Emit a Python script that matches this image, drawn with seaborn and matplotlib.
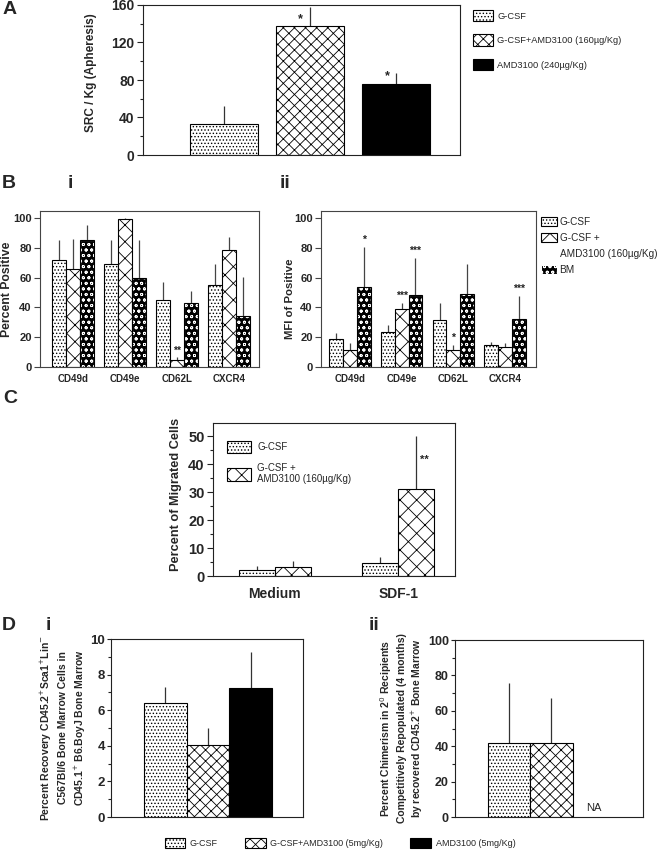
import numpy as np
import pandas as pd
import seaborn as sns
import matplotlib.pyplot as plt
from matplotlib.patches import Patch, Rectangle
from matplotlib.ticker import MultipleLocator

# ---- values ----
# panel A
a_groups = ['G-CSF', 'G-CSF+AMD3100 (160µg/Kg)', 'AMD3100 (240µg/Kg)']
a_mean = [33, 138, 75.5]
a_err = [19, 20, 12]
a_star = ['', '*', '*']
a_star_y = [0, 145, 84]

# panel B
b_markers = ['CD49d', 'CD49e', 'CD62L', 'CXCR4']
b_groups = ['G-CSF', 'G-CSF + AMD3100 (160µg/Kg)', 'BM']
bi_gcsf = [72, 69, 45, 55]
bi_gcsf_err = [13, 16, 12, 14]
bi_amd = [66, 99, 5, 78.5]
bi_amd_err = [20, 1, 2, 9]
bi_bm = [85, 59.5, 43, 34]
bi_bm_err = [10, 25.5, 8, 26.5]
bi_amd_star = ['', '', '**', '']

bii_gcsf = [18.6, 23.7, 31.5, 14.8]
bii_gcsf_err = [4, 4.3, 11.5, 1.8]
bii_amd = [11.6, 38.7, 11.4, 13.6]
bii_amd_err = [4.3, 4.3, 3.4, 2.3]
bii_bm = [53.5, 48.5, 49.2, 32.4]
bii_bm_err = [27.2, 24.5, 19.8, 15.2]
bii_amd_star = ['', '***', '*', '']
bii_bm_star = ['*', '***', '', '***']

# panel C
c_conditions = ['Medium', 'SDF-1']
c_groups = ['G-CSF', 'G-CSF +\nAMD3100 (160µg/Kg)']
c_gcsf = [2.2, 4.5]
c_gcsf_err = [1.4, 2.2]
c_amd = [3.1, 31.1]
c_amd_err = [2.3, 19.1]
c_amd_star = ['', '**']

# panel D
d_groups = ['G-CSF', 'G-CSF+AMD3100 (5mg/Kg)', 'AMD3100 (5mg/Kg)']
di_mean = [6.39, 4.04, 7.23]
di_err = [0.93, 0.98, 2.06]
dii_mean = [42, 41.6, np.nan]
dii_err = [33.5, 25.4, np.nan]

sns.set_style('ticks')
plt.rcParams['font.family'] = ['Liberation Sans', 'DejaVu Sans']
plt.rcParams['hatch.linewidth'] = 0.6

W, H = 658, 855
fig = plt.figure(figsize=(W / 100, H / 100), dpi=100)


def add_ax(l, t, r, b):
    return fig.add_axes([l / W, 1 - b / H, (r - l) / W, (b - t) / H])


def dots():
    return dict(facecolor='white', edgecolor='black', hatch='.....')


def cross(h):
    return dict(facecolor='white', edgecolor='black', hatch=h)


def solid():
    return dict(facecolor='black', edgecolor='black', hatch=None)


def marrow():
    return dict(facecolor='black', edgecolor='white', hatch='ooo')


def style_bar(ax, bar, st, err, ecolor='#333'):
    bar.set_facecolor(st['facecolor'])
    bar.set_edgecolor(st['edgecolor'])
    bar.set_hatch(st['hatch'])
    bar.set_linewidth(0.8)
    if st['edgecolor'] == 'white':
        ax.add_patch(Rectangle(bar.get_xy(), bar.get_width(), bar.get_height(),
                               fill=False, edgecolor='black', lw=0.8, zorder=bar.get_zorder() + 0.1))
    x = bar.get_x() + bar.get_width() / 2
    y = bar.get_height()
    ax.vlines(x, y, y + err, color=ecolor, lw=0.9, zorder=bar.get_zorder() - 0.5)
    return x, y + err


def frame(ax, lw=0.8, color='#222'):
    for s in ax.spines.values():
        s.set_visible(True)
        s.set_linewidth(lw)
        s.set_color(color)
    ax.tick_params(axis='x', length=0)
    ax.tick_params(axis='y', which='major', length=4, width=0.8, pad=2, color=color)
    ax.tick_params(axis='y', which='minor', length=2.5, width=0.8, color=color)
    ax.set_xlabel('')


def bold_ticks(ax, ysize, xsize=None):
    for t in ax.get_yticklabels():
        t.set_fontweight('bold')
        t.set_fontsize(ysize)
    for t in ax.get_xticklabels():
        t.set_fontweight('bold')
        if xsize:
            t.set_fontsize(xsize)


# ================= A =================
ax = add_ax(143, 5, 460, 155)
dfa = pd.DataFrame({'group': a_groups, 'value': a_mean})
sns.barplot(data=dfa, x='group', y='value', hue='group', order=a_groups, hue_order=a_groups,
            palette=['white', 'white', 'black'], dodge=False, legend=False, width=0.79,
            errorbar=None, ax=ax)
a_styles = [dots(), cross('xxx'), solid()]
for p in list(ax.patches):
    i = int(round(p.get_x() + p.get_width() / 2))
    x, top = style_bar(ax, p, a_styles[i], a_err[i])
    if a_star[i]:
        ax.text(x - 0.08, a_star_y[i], a_star[i], ha='right', va='center', fontsize=9, fontweight='bold')
ax.set_xlim(-0.94, 2.74)
ax.set_ylim(0, 160)
ax.set_yticks([0, 40, 80, 120, 160])
ax.yaxis.set_minor_locator(MultipleLocator(20))
ax.set_xticks([])
frame(ax)
bold_ticks(ax, 10)
ax.set_ylabel('SRC / Kg (Apheresis)', fontsize=8.5, fontweight='bold')
ax.yaxis.set_label_coords(-0.145, 0.55)
ax.legend(handles=[Patch(**s, lw=0.8) for s in a_styles], labels=a_groups,
          loc='upper left', bbox_to_anchor=(473 / W, 1 - 10 / H), bbox_transform=fig.transFigure,
          frameon=False, fontsize=6.7, handlelength=2.15, handleheight=1.5, labelspacing=1.4,
          handletextpad=0.45, borderpad=0, borderaxespad=0)


# ================= B =================
def grouped(ax, means, errs, stars, styles, xlim, ylim, width=0.8, star_off=1.0):
    rows = []
    for g, vals in zip(b_groups, means):
        for m, v in zip(b_markers, vals):
            rows.append((m, g, v))
    df = pd.DataFrame(rows, columns=['marker', 'group', 'value'])
    sns.barplot(data=df, x='marker', y='value', hue='group', order=b_markers, hue_order=b_groups,
                palette=['white', 'white', 'black'], width=width, legend=False, errorbar=None, ax=ax)
    for k, cont in enumerate(list(ax.containers)):
        for j, bar in enumerate(cont):
            x, top = style_bar(ax, bar, styles[k], errs[k][j], ecolor='#444')
            if stars[k][j]:
                ax.text(x, top + star_off, stars[k][j], ha='center', va='bottom', fontsize=7.5,
                        fontweight='bold', color='#222')
    ax.set_xlim(*xlim)
    ax.set_ylim(*ylim)
    ax.set_yticks([0, 20, 40, 60, 80, 100])
    frame(ax, color='#444')
    ax.tick_params(axis='x', pad=5)
    bold_ticks(ax, 8, 7)


b_styles = [dots(), cross('xx'), marrow()]
ax = add_ax(40, 211, 259, 367)
grouped(ax, [bi_gcsf, bi_amd, bi_bm], [bi_gcsf_err, bi_amd_err, bi_bm_err],
        [[''] * 4, bi_amd_star, [''] * 4], b_styles, (-0.635, 3.58), (0, 104.7), star_off=0.2)
ax.set_ylabel('Percent Positive', fontsize=8.8, fontweight='bold')
ax.yaxis.set_label_coords(-0.123, 0.5)

ax = add_ax(321, 211, 536, 367)
grouped(ax, [bii_gcsf, bii_amd, bii_bm], [bii_gcsf_err, bii_amd_err, bii_bm_err],
        [[''] * 4, bii_amd_star, bii_bm_star], b_styles, (-0.56, 3.6), (0, 104.7), star_off=1.5)
ax.set_ylabel('MFI of Positive', fontsize=8.2, fontweight='bold')
ax.yaxis.set_label_coords(-0.121, 0.44)
b_handles = [Patch(**b_styles[0], lw=0.8), Patch(**b_styles[1], lw=0.8),
             Patch(facecolor='none', edgecolor='none'), Patch(**b_styles[2], lw=0.8)]
b_labels = ['G-CSF', 'G-CSF +', 'AMD3100 (160µg/Kg)', 'BM']
ax.legend(handles=b_handles, labels=b_labels, loc='upper left',
          bbox_to_anchor=(541 / W, 1 - 217 / H), bbox_transform=fig.transFigure,
          frameon=False, fontsize=7.2, handlelength=1.6, handleheight=1.0, labelspacing=0.6,
          handletextpad=0.25, borderpad=0, borderaxespad=0)

# ================= C =================
ax = add_ax(213, 423, 455, 576)
rows = []
for g, vals in zip(c_groups, [c_gcsf, c_amd]):
    for c, v in zip(c_conditions, vals):
        rows.append((c, g, v))
dfc = pd.DataFrame(rows, columns=['condition', 'group', 'value'])
sns.barplot(data=dfc, x='condition', y='value', hue='group', order=c_conditions, hue_order=c_groups,
            palette=['white', 'white'], width=0.58, legend=False, errorbar=None, ax=ax)
c_styles = [dots(), cross('xx')]
c_errs = [c_gcsf_err, c_amd_err]
c_stars = [['', ''], c_amd_star]
for k, cont in enumerate(list(ax.containers)):
    for j, bar in enumerate(cont):
        x, top = style_bar(ax, bar, c_styles[k], c_errs[k][j])
        if c_stars[k][j]:
            ax.text(x + 0.03, bar.get_height() + 10.5, c_stars[k][j], ha='left', va='center',
                    fontsize=8, fontweight='bold')
ax.set_xlim(-0.5, 1.46)
ax.set_ylim(0, 54.8)
ax.set_yticks([0, 10, 20, 30, 40, 50])
ax.yaxis.set_minor_locator(MultipleLocator(5))
frame(ax)
ax.tick_params(axis='x', pad=8)
bold_ticks(ax, 10.5, 10)
ax.set_ylabel('Percent of Migrated Cells', fontsize=9.2, fontweight='bold')
ax.yaxis.set_label_coords(-0.128, 0.53)
ax.legend(handles=[Patch(**s, lw=0.8) for s in c_styles], labels=c_groups, loc='upper left',
          bbox_to_anchor=(227 / W, 1 - 441 / H), bbox_transform=fig.transFigure,
          frameon=False, fontsize=7, handlelength=2.5, handleheight=1.55, labelspacing=1.0,
          handletextpad=0.6, borderpad=0, borderaxespad=0)

# ================= D =================
d_styles = [dots(), cross('xxx'), solid()]


def single(ax, means, errs, xlim, ylim, ticks, minor, tsize):
    df = pd.DataFrame({'group': d_groups, 'value': means})
    sns.barplot(data=df, x='group', y='value', hue='group', order=d_groups, hue_order=d_groups,
                palette=['white', 'white', 'black'], dodge=False, legend=False, width=1.0,
                errorbar=None, ax=ax)
    for p in list(ax.patches):
        if not np.isfinite(p.get_height()) or p.get_height() == 0:
            continue
        i = int(round(p.get_x() + p.get_width() / 2))
        style_bar(ax, p, d_styles[i], errs[i])
    ax.set_xlim(*xlim)
    ax.set_ylim(*ylim)
    ax.set_yticks(ticks)
    ax.yaxis.set_minor_locator(MultipleLocator(minor))
    ax.set_xticks([])
    frame(ax)
    ax.tick_params(axis='y', which='major', length=3, pad=1.5)
    bold_ticks(ax, tsize)


ax = add_ax(111, 639, 303, 817)
single(ax, di_mean, di_err, (-1.27, 3.22), (0, 10), [0, 2, 4, 6, 8, 10], 1, 9.5)
ax.set_ylabel('Percent Recovery CD45.2$^{+}$Sca1$^{+}$Lin$^{-}$\nC567Bl/6 Bone Marrow Cells in\n'
              'CD45.1$^{+}$ B6.BoyJ Bone Marrow', fontsize=7.5, fontweight='bold', linespacing=1.45)
ax.yaxis.set_label_coords(-0.12, 0.5)

ax = add_ax(455, 640, 643, 817)
single(ax, dii_mean, dii_err, (-1.27, 3.16), (0, 100), [0, 20, 40, 60, 80, 100], 10, 9)
ax.text(2, 5, 'NA', ha='center', va='center', fontsize=8)
ax.set_ylabel('Percent Chimerism in 2$^{0}$ Recipients\nCompetitively Repopulated (4 months)\n'
              'by recovered CD45.2$^{+}$ Bone Marrow', fontsize=7.5, fontweight='bold', linespacing=1.3)
ax.yaxis.set_label_coords(-0.158, 0.5)

fig.legend(handles=[Patch(**s, lw=0.8) for s in d_styles], labels=d_groups, loc='center',
           bbox_to_anchor=(340 / W, 1 - 843 / H), ncol=3, frameon=False, fontsize=6.5,
           handlelength=2.3, handleheight=1.35, handletextpad=0.5, columnspacing=3.0,
           borderpad=0, borderaxespad=0)

# panel letters
for txt, x, y, s in [('A', 3, 10, 14), ('B', 2, 184, 14), ('i', 68, 184, 14), ('ii', 280, 184, 14),
                     ('C', 3, 398, 14), ('D', 2, 625, 14), ('i', 46, 625, 14), ('ii', 369, 626, 14)]:
    fig.text(x / W, 1 - y / H, txt, ha='left', va='center', fontsize=s, fontweight='bold')

fig.savefig('out.png', dpi=100)
